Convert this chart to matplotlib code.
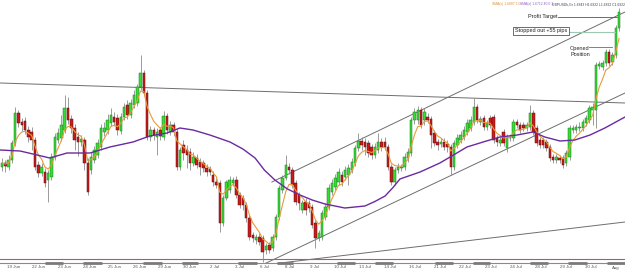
import matplotlib
matplotlib.use("Agg")
import matplotlib.pyplot as plt
import matplotlib.transforms as mtransforms

plt.rcParams['font.family'] = ['Liberation Sans', 'DejaVu Sans']

# GBPUSD candles (open, close, high, low)
opens = [1.6332, 1.6348, 1.6332, 1.6360, 1.6428, 1.6548, 1.6512, 1.6516, 1.6480, 1.6472,
         1.6440, 1.6340, 1.6308, 1.6312, 1.6280, 1.6292, 1.6372, 1.6440, 1.6448, 1.6480,
         1.6568, 1.6524, 1.6488, 1.6452, 1.6432, 1.6440, 1.6348, 1.6320, 1.6360, 1.6380,
         1.6412, 1.6472, 1.6480, 1.6508, 1.6532, 1.6528, 1.6476, 1.6532, 1.6580, 1.6540,
         1.6580, 1.6588, 1.6652, 1.6708, 1.6628, 1.6452, 1.6480, 1.6452, 1.6480, 1.6452,
         1.6536, 1.6472, 1.6500, 1.6472, 1.6332, 1.6420, 1.6400, 1.6392, 1.6348, 1.6368,
         1.6352, 1.6348, 1.6328, 1.6324, 1.6300, 1.6272, 1.6268, 1.6108, 1.6208, 1.6240,
         1.6268, 1.6280, 1.6220, 1.6208, 1.6180, 1.6128, 1.6060, 1.6040, 1.6052, 1.6048,
         1.6000, 1.6020, 1.6008, 1.6052, 1.6132, 1.6240, 1.6288, 1.6332, 1.6320, 1.6268,
         1.6220, 1.6160, 1.6192, 1.6188, 1.6172, 1.6108, 1.6048, 1.6052, 1.6132, 1.6172,
         1.6232, 1.6252, 1.6272, 1.6300, 1.6292, 1.6300, 1.6320, 1.6348, 1.6408, 1.6436,
         1.6432, 1.6428, 1.6412, 1.6380, 1.6400, 1.6432, 1.6432, 1.6412, 1.6332, 1.6272,
         1.6320, 1.6328, 1.6332, 1.6368, 1.6388, 1.6520, 1.6520, 1.6560, 1.6520, 1.6532,
         1.6524, 1.6468, 1.6432, 1.6424, 1.6432, 1.6424, 1.6412, 1.6332, 1.6420, 1.6440,
         1.6452, 1.6472, 1.6488, 1.6512, 1.6572, 1.6512, 1.6528, 1.6492, 1.6528, 1.6532,
         1.6448, 1.6428, 1.6472, 1.6408, 1.6448, 1.6448, 1.6512, 1.6500, 1.6500, 1.6488,
         1.6492, 1.6548, 1.6488, 1.6440, 1.6440, 1.6432, 1.6412, 1.6372, 1.6360, 1.6368,
         1.6368, 1.6348, 1.6372, 1.6480, 1.6480, 1.6488, 1.6488, 1.6508, 1.6520, 1.6560,
         1.6560, 1.6736, 1.6732, 1.6748, 1.6792, 1.6752, 1.6780, 1.6888]
closes = [1.6348, 1.6336, 1.6360, 1.6428, 1.6548, 1.6508, 1.6500, 1.6480, 1.6452, 1.6440,
          1.6332, 1.6308, 1.6332, 1.6268, 1.6308, 1.6372, 1.6452, 1.6468, 1.6500, 1.6568,
          1.6520, 1.6488, 1.6440, 1.6432, 1.6444, 1.6348, 1.6232, 1.6372, 1.6400, 1.6428,
          1.6488, 1.6488, 1.6520, 1.6540, 1.6512, 1.6480, 1.6532, 1.6572, 1.6540, 1.6588,
          1.6620, 1.6652, 1.6708, 1.6628, 1.6452, 1.6480, 1.6460, 1.6472, 1.6456, 1.6536,
          1.6480, 1.6500, 1.6472, 1.6332, 1.6400, 1.6388, 1.6380, 1.6348, 1.6372, 1.6340,
          1.6332, 1.6328, 1.6312, 1.6312, 1.6272, 1.6260, 1.6108, 1.6208, 1.6272, 1.6280,
          1.6280, 1.6220, 1.6180, 1.6180, 1.6128, 1.6052, 1.6048, 1.6052, 1.6032, 1.5992,
          1.6016, 1.6000, 1.6052, 1.6132, 1.6248, 1.6288, 1.6340, 1.6320, 1.6260, 1.6192,
          1.6188, 1.6188, 1.6160, 1.6168, 1.6100, 1.6048, 1.6068, 1.6148, 1.6172, 1.6248,
          1.6268, 1.6288, 1.6312, 1.6272, 1.6320, 1.6328, 1.6352, 1.6408, 1.6436, 1.6420,
          1.6412, 1.6388, 1.6380, 1.6412, 1.6432, 1.6412, 1.6412, 1.6332, 1.6272, 1.6320,
          1.6332, 1.6332, 1.6372, 1.6392, 1.6520, 1.6552, 1.6560, 1.6500, 1.6552, 1.6520,
          1.6460, 1.6428, 1.6420, 1.6432, 1.6412, 1.6412, 1.6332, 1.6428, 1.6448, 1.6460,
          1.6480, 1.6508, 1.6520, 1.6572, 1.6520, 1.6524, 1.6492, 1.6508, 1.6500, 1.6440,
          1.6432, 1.6440, 1.6428, 1.6452, 1.6452, 1.6512, 1.6500, 1.6480, 1.6488, 1.6500,
          1.6548, 1.6472, 1.6428, 1.6420, 1.6420, 1.6408, 1.6368, 1.6360, 1.6372, 1.6360,
          1.6340, 1.6388, 1.6488, 1.6488, 1.6492, 1.6492, 1.6512, 1.6528, 1.6568, 1.6572,
          1.6740, 1.6744, 1.6748, 1.6792, 1.6748, 1.6780, 1.6888, 1.6952]
highs = [1.6368, 1.6360, 1.6380, 1.6440, 1.6572, 1.6560, 1.6528, 1.6532, 1.6496, 1.6492,
         1.6452, 1.6356, 1.6348, 1.6328, 1.6320, 1.6388, 1.6468, 1.6488, 1.6540, 1.6620,
         1.6612, 1.6540, 1.6504, 1.6472, 1.6460, 1.6452, 1.6368, 1.6392, 1.6416, 1.6444,
         1.6504, 1.6512, 1.6544, 1.6568, 1.6552, 1.6544, 1.6548, 1.6588, 1.6600, 1.6604,
         1.6640, 1.6664, 1.6780, 1.6720, 1.6640, 1.6496, 1.6492, 1.6488, 1.6492, 1.6556,
         1.6548, 1.6516, 1.6512, 1.6484, 1.6412, 1.6440, 1.6420, 1.6408, 1.6392, 1.6384,
         1.6368, 1.6360, 1.6344, 1.6336, 1.6316, 1.6288, 1.6280, 1.6220, 1.6280, 1.6296,
         1.6292, 1.6296, 1.6232, 1.6220, 1.6192, 1.6144, 1.6072, 1.6064, 1.6068, 1.6060,
         1.6028, 1.6032, 1.6064, 1.6144, 1.6260, 1.6300, 1.6380, 1.6348, 1.6332, 1.6280,
         1.6232, 1.6200, 1.6208, 1.6200, 1.6184, 1.6120, 1.6080, 1.6160, 1.6188, 1.6264,
         1.6284, 1.6304, 1.6328, 1.6316, 1.6336, 1.6344, 1.6368, 1.6420, 1.6468, 1.6452,
         1.6448, 1.6440, 1.6424, 1.6428, 1.6468, 1.6448, 1.6452, 1.6424, 1.6344, 1.6332,
         1.6348, 1.6344, 1.6388, 1.6408, 1.6532, 1.6568, 1.6576, 1.6572, 1.6568, 1.6548,
         1.6536, 1.6480, 1.6444, 1.6448, 1.6448, 1.6440, 1.6424, 1.6440, 1.6464, 1.6476,
         1.6496, 1.6524, 1.6536, 1.6608, 1.6584, 1.6536, 1.6540, 1.6520, 1.6540, 1.6544,
         1.6460, 1.6452, 1.6484, 1.6464, 1.6464, 1.6524, 1.6524, 1.6512, 1.6512, 1.6512,
         1.6580, 1.6560, 1.6500, 1.6452, 1.6452, 1.6444, 1.6424, 1.6384, 1.6384, 1.6380,
         1.6380, 1.6400, 1.6500, 1.6500, 1.6504, 1.6512, 1.6524, 1.6540, 1.6580, 1.6588,
         1.6752, 1.6756, 1.6760, 1.6804, 1.6804, 1.6792, 1.6900, 1.6968]
lows = [1.6316, 1.6312, 1.6320, 1.6348, 1.6416, 1.6492, 1.6476, 1.6464, 1.6432, 1.6400,
        1.6320, 1.6292, 1.6296, 1.6252, 1.6192, 1.6280, 1.6360, 1.6428, 1.6436, 1.6468,
        1.6504, 1.6468, 1.6400, 1.6376, 1.6416, 1.6320, 1.6220, 1.6304, 1.6348, 1.6368,
        1.6400, 1.6456, 1.6464, 1.6496, 1.6496, 1.6460, 1.6464, 1.6520, 1.6524, 1.6528,
        1.6568, 1.6576, 1.6640, 1.6616, 1.6440, 1.6436, 1.6440, 1.6380, 1.6440, 1.6440,
        1.6464, 1.6460, 1.6456, 1.6320, 1.6320, 1.6360, 1.6328, 1.6320, 1.6336, 1.6328,
        1.6300, 1.6312, 1.6296, 1.6300, 1.6256, 1.6248, 1.6072, 1.6096, 1.6200, 1.6228,
        1.6256, 1.6208, 1.6168, 1.6160, 1.6112, 1.6040, 1.6032, 1.6024, 1.6020, 1.5952,
        1.5984, 1.5988, 1.5996, 1.6040, 1.6120, 1.6228, 1.6280, 1.6304, 1.6248, 1.6180,
        1.6160, 1.6148, 1.6140, 1.6152, 1.6088, 1.6008, 1.6036, 1.6040, 1.6120, 1.6160,
        1.6220, 1.6240, 1.6260, 1.6256, 1.6280, 1.6260, 1.6308, 1.6336, 1.6396, 1.6400,
        1.6380, 1.6372, 1.6364, 1.6368, 1.6388, 1.6396, 1.6400, 1.6320, 1.6260, 1.6260,
        1.6308, 1.6316, 1.6320, 1.6352, 1.6376, 1.6504, 1.6504, 1.6488, 1.6500, 1.6508,
        1.6408, 1.6416, 1.6400, 1.6412, 1.6400, 1.6392, 1.6300, 1.6320, 1.6408, 1.6428,
        1.6440, 1.6460, 1.6476, 1.6500, 1.6508, 1.6500, 1.6480, 1.6480, 1.6488, 1.6428,
        1.6416, 1.6416, 1.6416, 1.6392, 1.6436, 1.6436, 1.6488, 1.6468, 1.6476, 1.6476,
        1.6480, 1.6460, 1.6416, 1.6408, 1.6408, 1.6396, 1.6356, 1.6348, 1.6348, 1.6348,
        1.6328, 1.6336, 1.6360, 1.6468, 1.6468, 1.6476, 1.6476, 1.6496, 1.6508, 1.6500,
        1.6488, 1.6724, 1.6720, 1.6736, 1.6736, 1.6740, 1.6768, 1.6876]

# 40-period moving average (purple), read at bar positions
ma40_x = [-0.6, 5.5, 14.5, 19.7, 26.7, 32.7, 39.7, 44.8, 50.0, 53.9, 57.9, 63.0, 69.1,
          73.0, 76.7, 79.5, 82.7, 86.5, 90.3, 94.0, 97.9, 103.9, 110.0, 113.0, 116.1,
          118.5, 120.6, 126.7, 132.7, 135.8, 140.9, 145.8, 150.9, 156.1, 160.9, 164.5,
          169.1, 173.6, 178.2, 182.7, 188.8]
ma40_y = [1.6400, 1.6396, 1.6368, 1.6388, 1.6388, 1.6412, 1.6432, 1.6456, 1.6468, 1.6488,
          1.6480, 1.6460, 1.6432, 1.6404, 1.6368, 1.6320, 1.6280, 1.6244, 1.6220, 1.6200,
          1.6184, 1.6168, 1.6176, 1.6194, 1.6216, 1.6250, 1.6284, 1.6312, 1.6348, 1.6372,
          1.6412, 1.6432, 1.6452, 1.6460, 1.6472, 1.6452, 1.6436, 1.6440, 1.6460, 1.6488,
          1.6532]

# trend lines: (bar1, price1, bar2, price2)
trend_lines = [
    (-0.6, 1.6668, 188.8, 1.6588),
    (81.8, 1.6272, 188.8, 1.6952),
    (78.8, 1.5940, 188.8, 1.6628),
    (81.8, 1.5944, 188.8, 1.6112),
]
support_level = 1.5964
profit_target = 1.6932
stopped_out = 1.6872
opened_price = 1.6812

date_labels = ["19 Jun", "22 Jun", "23 Jun", "24 Jun", "25 Jun", "26 Jun", "29 Jun",
               "30 Jun", "2 Jul", "3 Jul", "6 Jul", "8 Jul", "9 Jul", "10 Jul", "13 Jul",
               "14 Jul", "16 Jul", "21 Jul", "22 Jul", "23 Jul", "24 Jul", "28 Jul",
               "29 Jul", "30 Jul", "Aug"]
week_bands = [(13.0, 18.5), (24.5, 30.3), (42.7, 48.5), (54.5, 59.4), (71.5, 77.3),
              (83.3, 88.2), (101.5, 107.0), (113.0, 118.5), (131.2, 136.7), (142.7, 147.9),
              (160.0, 165.5), (171.5, 177.3), (183.3, 188.8)]

fig = plt.figure(figsize=(6.25, 2.75), dpi=100)
ax = fig.add_axes([0, 12 / 275, 1, 263 / 275])
ax.set_xlim(-0.6, 188.8)
ax.set_ylim(1.5948, 1.7000)

n = len(opens)
xs = list(range(n))

# wicks
ax.vlines(xs, lows, highs, color="#8c8c8c", lw=0.6, zorder=2)

# bodies
up = [c >= o for o, c in zip(opens, closes)]
bottoms = [min(o, c) for o, c in zip(opens, closes)]
heights = [max(abs(c - o), 0.0003) for o, c in zip(opens, closes)]
face = ["#35dd35" if u else "#cc1a1a" for u in up]
edge = ["#1f7a1f" if u else "#5a1010" for u in up]
ax.bar(xs, heights, bottom=bottoms, width=0.75, color=face, edgecolor=edge,
       linewidth=0.35, zorder=3)

# fast MA (orange)
ema = []
k = 2 / (5 + 1)
for c in closes:
    ema.append(c if not ema else ema[-1] + k * (c - ema[-1]))
ax.plot(xs, ema, color="#e89a3a", lw=0.8, zorder=4)

# slow MA (purple)
ax.plot(ma40_x, ma40_y, color="#6a2aa0", lw=1.0, zorder=4)

for x1, y1, x2, y2 in trend_lines:
    ax.plot([x1, x2], [y1, y2], color="#6e6e6e", lw=0.7, zorder=1)

ax.axhline(support_level, color="#a86060", lw=0.8, zorder=1)

# trade annotations
ax.plot([168.5, 186.4], [profit_target] * 2, color="#555555", lw=0.6, zorder=5)
ax.text(168.3, profit_target, "Profit Target", fontsize=4, ha="right", va="center",
        color="#222222", zorder=6)
ax.plot([171.8, 185.8], [stopped_out] * 2, color="#9cc8b4", lw=0.8, zorder=5)
ax.text(155.4, stopped_out + 0.0004, "Stopped out +55 pips", fontsize=4, ha="left",
        va="center", color="#222222", zorder=6,
        bbox=dict(boxstyle="square,pad=0.35", fc="white", ec="#333333", lw=0.5))
ax.plot([178.0, 184.8], [opened_price] * 2, color="#b05050", lw=0.6, zorder=5)
ax.text(172.2, opened_price + 0.0002, "Opened\nPosition", fontsize=4, ha="left",
        va="top", color="#222222", linespacing=1.1, zorder=6)

# header
fig.text(0.787, 0.992, "SMA(x) 1.6807 5.0", fontsize=2.4, color="#d89030", va="top")
fig.text(0.832, 0.992, "SMA(x) 1.6712 40.0 1", fontsize=2.4, color="#9060c0", va="top")
fig.text(0.883, 0.992, "GBPUSDh,Gr 1.6843 H1.6922 L1.6822 C1.6922", fontsize=2.4,
         color="#404060", va="top")

# bottom axis
for s in ["top", "left", "right"]:
    ax.spines[s].set_visible(False)
ax.spines["bottom"].set_color("#8a8a8a")
ax.spines["bottom"].set_linewidth(0.8)
ax.set_yticks([])
ax.set_xticks([3.6 + 7.6 * i for i in range(len(date_labels))])
ax.set_xticklabels(date_labels, fontsize=3.2, color="#555555")
ax.tick_params(axis="x", length=0, pad=1.8)

trans = mtransforms.blended_transform_factory(ax.transData, ax.transAxes)
for a, b in week_bands:
    ax.plot([a, b], [0, 0], color="#7a7a7a", lw=2.0, transform=trans, clip_on=False,
            solid_capstyle="butt", zorder=6)

fig.savefig("out.png", dpi=100)
